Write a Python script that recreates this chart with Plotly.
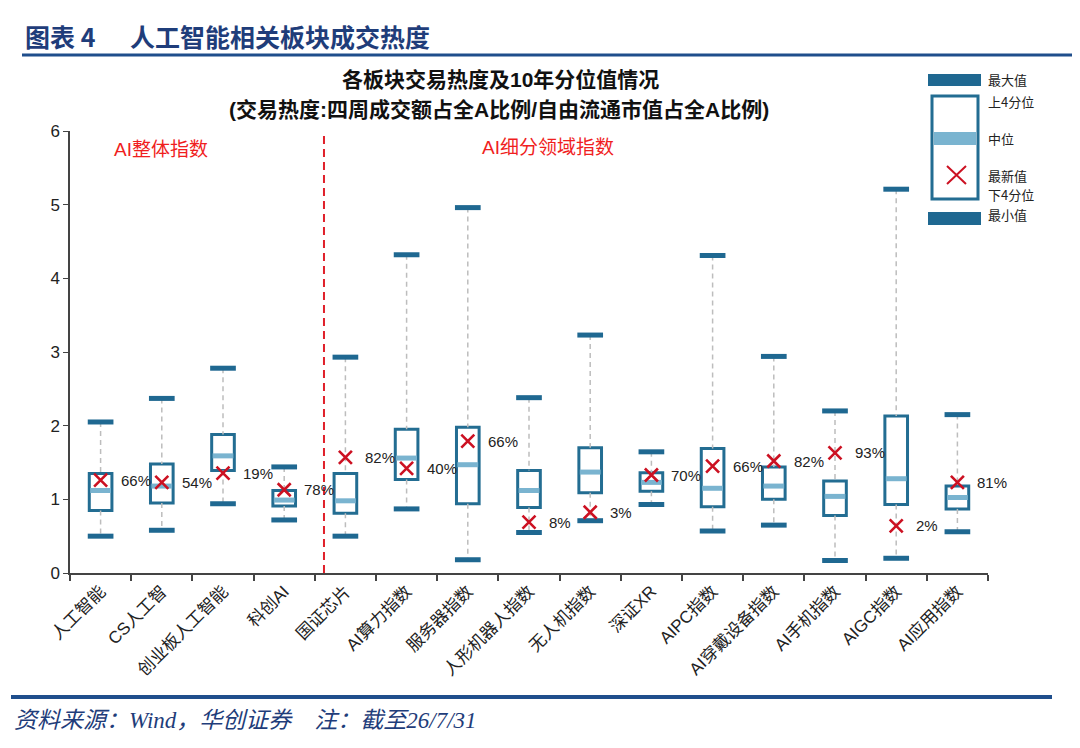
import plotly.graph_objects as go

# ---- DATA ----
categories = ["人工智能", "CS人工智", "创业板人工智能", "科创AI", "国证芯片", "AI算力指数", "服务器指数",
              "人形机器人指数", "无人机指数", "深证XR", "AIPC指数", "AI穿戴设备指数", "AI手机指数",
              "AIGC指数", "AI应用指数"]
max_vals = [2.05, 2.37, 2.78, 1.44, 2.93, 4.32, 4.96, 2.38, 3.23, 1.645, 4.31, 2.94, 2.20, 5.21, 2.15]
q3_vals = [1.35, 1.48, 1.88, 1.12, 1.35, 1.95, 1.98, 1.39, 1.70, 1.36, 1.69, 1.44, 1.25, 2.13, 1.18]
median_vals = [1.12, 1.18, 1.59, 0.99, 0.98, 1.56, 1.47, 1.12, 1.37, 1.23, 1.15, 1.18, 1.04, 1.28, 1.025]
q1_vals = [0.85, 0.95, 1.39, 0.91, 0.81, 1.27, 0.94, 0.89, 1.09, 1.11, 0.90, 1.00, 0.78, 0.93, 0.87]
min_vals = [0.50, 0.58, 0.94, 0.72, 0.50, 0.87, 0.18, 0.55, 0.71, 0.93, 0.57, 0.65, 0.17, 0.20, 0.56]
latest_vals = [1.26, 1.23, 1.355, 1.13, 1.57, 1.42, 1.79, 0.69, 0.825, 1.33, 1.45, 1.52, 1.63, 0.64, 1.23]
pct_labels = ["66%", "54%", "19%", "78%", "82%", "40%", "66%", "8%", "3%", "70%", "66%", "82%", "93%",
              "2%", "81%"]
y_ticks = [0, 1, 2, 3, 4, 5, 6]

# ---- STYLE ----
BOX_LINE = "#236D92"
CAP = "#1F6891"
MED = "#7AB4D0"
RED_X = "#CC1122"
NAVY = "#1F3D7A"
CJK = "Noto Sans CJK SC"
SANS = "Liberation Sans, Noto Sans CJK SC"

# the page body has an 8px margin, so the figure is 8px smaller and everything is shifted by it
OFF = 8
W, H = 1080 - OFF, 748 - OFF
L, R, T, B = 70 - OFF, 92, 131 - OFF, 175


def px(x):
    return (x - OFF - L) / (W - L - R)


def py(y):
    return (H - B - (y - OFF)) / (H - T - B)


idx = list(range(len(categories)))


def segments(x0s, x1s, y0s, y1s):
    xs, ys = [], []
    for a, b, c, d in zip(x0s, x1s, y0s, y1s):
        xs += [a, b, None]
        ys += [c, d, None]
    return xs, ys


def note(x, y, text, size, color, family=SANS, anchor="left"):
    fig.add_annotation(x=px(x), y=py(y), xref="paper", yref="paper", text=text, showarrow=False,
                       xanchor=anchor, yanchor="middle", font=dict(family=family, size=size, color=color))


fig = go.Figure()

# whiskers (dashed), split so they stay outside the box
wx, wy = segments(idx + idx, idx + idx, max_vals + q1_vals, q3_vals + min_vals)
fig.add_trace(go.Scatter(x=wx, y=wy, mode="lines", hoverinfo="skip",
                         line=dict(color="#BDBDBD", width=1.5, dash="5px,4px")))

# boxes
fig.add_trace(go.Bar(x=idx, y=[a - b for a, b in zip(q3_vals, q1_vals)], base=q1_vals, width=0.37,
                     marker=dict(color="white", line=dict(color=BOX_LINE, width=3))))

# caps
cw = 0.21
cx, cy = segments([i - cw for i in idx] * 2, [i + cw for i in idx] * 2, max_vals + min_vals, max_vals + min_vals)
fig.add_trace(go.Scatter(x=cx, y=cy, mode="lines", hoverinfo="skip", line=dict(color=CAP, width=5)))

# medians
mw = 0.17
mx, my = segments([i - mw for i in idx], [i + mw for i in idx], median_vals, median_vals)
fig.add_trace(go.Scatter(x=mx, y=my, mode="lines", hoverinfo="skip", line=dict(color=MED, width=5)))

# latest value
fig.add_trace(go.Scatter(x=idx, y=latest_vals, mode="markers",
                         marker=dict(symbol="x-thin", size=13, line=dict(color=RED_X, width=2.6))))

for i, v, t in zip(idx, latest_vals, pct_labels):
    fig.add_annotation(x=i, y=v, text=t, showarrow=False, xanchor="left", yanchor="middle", xshift=18,
                       font=dict(family=SANS, size=15, color="#222"))

# divider between overall and sub-sector indices
fig.add_shape(type="line", x0=3.65, x1=3.65, y0=0, y1=1, xref="x", yref="paper",
              line=dict(color="#E0202A", width=2, dash="8px,5px"))
note(112, 150, "AI整体指数", 19, "#F01E1E")
note(480, 147, "AI细分领域指数", 19, "#F01E1E")

# chart title
note(500, 80, "<b>各板块交易热度及10年分位值情况</b>", 21, "#111", anchor="center")
note(499, 110, "<b>(交易热度:四周成交额占全A比例/自由流通市值占全A比例)</b>", 21, "#111", anchor="center")

# header and footer
note(23, 36, "<b>图表 4</b>", 25, NAVY, family=CJK)
note(128, 36, "<b>人工智能相关板块成交热度</b>", 25, NAVY, family=CJK)
fig.add_shape(type="line", xref="paper", yref="paper", x0=px(22), x1=px(1080), y0=py(55), y1=py(55),
              line=dict(color="#1F4E8C", width=3))
fig.add_shape(type="line", xref="paper", yref="paper", x0=px(11), x1=px(1052), y0=py(697), y1=py(697),
              line=dict(color="#1F4E8C", width=4))
note(12, 720, "<i>资料来源：Wind，华创证券　注：截至26/7/31</i>", 23, NAVY,
     family="Liberation Serif, Noto Sans CJK SC")

# legend (drawn by hand)
fig.add_shape(type="rect", xref="paper", yref="paper", x0=px(928), x1=px(981), y0=py(74), y1=py(86),
              line=dict(width=0), fillcolor=CAP)
fig.add_shape(type="rect", xref="paper", yref="paper", x0=px(934), x1=px(976), y0=py(132), y1=py(145),
              line=dict(width=0), fillcolor=MED)
fig.add_shape(type="rect", xref="paper", yref="paper", x0=px(932), x1=px(978), y0=py(96), y1=py(199),
              line=dict(color=BOX_LINE, width=3))
fig.add_shape(type="rect", xref="paper", yref="paper", x0=px(928), x1=px(981), y0=py(212), y1=py(225),
              line=dict(width=0), fillcolor=CAP)
fig.add_shape(type="path", xref="paper", yref="paper",
              path=f"M {px(947)},{py(166)} L {px(966)},{py(184)} M {px(947)},{py(184)} L {px(966)},{py(166)}",
              line=dict(color=RED_X, width=2))
for txt, yy in [("最大值", 80), ("上4分位", 101), ("中位", 138), ("最新值", 175), ("下4分位", 194),
                ("最小值", 214)]:
    note(986, yy, txt, 13, "#222", family=CJK)

fig.update_layout(
    width=W, height=H,
    margin=dict(l=L, r=R, t=T, b=B),
    paper_bgcolor="white", plot_bgcolor="white",
    showlegend=False, barmode="overlay",
    font=dict(family=SANS, size=16, color="#222"),
    xaxis=dict(range=[-0.5, len(categories) - 0.5], tickmode="array", tickvals=idx, ticktext=categories,
               tickangle=-45, ticks="", showline=True, linecolor="#444", linewidth=1.5, showgrid=False,
               zeroline=False, tickfont=dict(family=SANS, size=17, color="#222"),
               minor=dict(tick0=-0.5, dtick=1, ticks="outside", ticklen=6, tickcolor="#444", tickwidth=1.5)),
    yaxis=dict(range=[0, 6], tickvals=y_ticks, ticks="outside", ticklen=5, tickcolor="#444", showline=True,
               linecolor="#444", linewidth=1.5, showgrid=False, zeroline=False,
               tickfont=dict(family=SANS, size=17, color="#222")),
)

fig.write_html("out.html")
